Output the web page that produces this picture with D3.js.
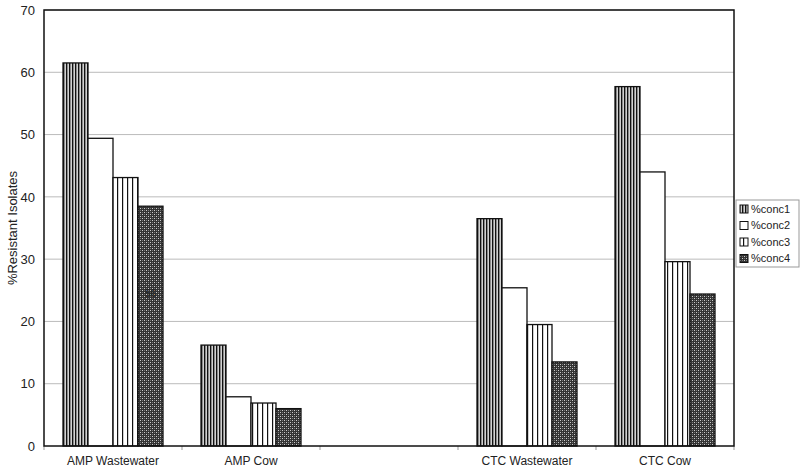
<!DOCTYPE html>
<html>
<head>
<meta charset="utf-8">
<script src="https://d3js.org/d3.v7.min.js"></script>
<style>
  body { margin: 0; background: #fff; }
  text { font-family: "Liberation Sans", Arial, sans-serif; fill: #222; }
</style>
</head>
<body>
<script>
const categories = ["AMP Wastewater", "AMP Cow", "", "CTC Wastewater", "CTC Cow"]
const seriesNames = ["%conc1", "%conc2", "%conc3", "%conc4"]
const conc1 = [61.5, 16.2, null, 36.5, 57.7]
const conc2 = [49.4, 7.9, null, 25.4, 44.0]
const conc3 = [43.1, 6.9, null, 19.5, 29.6]
const conc4 = [38.5, 6.0, null, 13.5, 24.4]
const yTicks = [0, 10, 20, 30, 40, 50, 60, 70]

const m = { width: 800, height: 470, left: 44, right: 734, top: 10, bottom: 446 }

const svg = d3.select("body").append("svg")
    .attr("width", m.width)
    .attr("height", m.height)

// patterns for each series
const defs = svg.append("defs")
const p1 = defs.append("pattern").attr("id", "pat0")
    .attr("patternUnits", "userSpaceOnUse").attr("width", 3).attr("height", 4)
p1.append("rect").attr("width", 3).attr("height", 4).attr("fill", "#aaa")
p1.append("rect").attr("x", 0).attr("width", 1.2).attr("height", 4).attr("fill", "#111")
p1.append("rect").attr("x", 2).attr("width", 0.6).attr("height", 4).attr("fill", "#eee")

defs.append("pattern").attr("id", "pat1")
    .attr("patternUnits", "userSpaceOnUse").attr("width", 4).attr("height", 4)
  .append("rect").attr("width", 4).attr("height", 4).attr("fill", "#fff")

const p3 = defs.append("pattern").attr("id", "pat2")
    .attr("patternUnits", "userSpaceOnUse").attr("width", 5).attr("height", 4)
p3.append("rect").attr("width", 5).attr("height", 4).attr("fill", "#fff")
p3.append("rect").attr("x", 2).attr("width", 1.2).attr("height", 4).attr("fill", "#111")

const p4 = defs.append("pattern").attr("id", "pat3")
    .attr("patternUnits", "userSpaceOnUse").attr("width", 4).attr("height", 4)
p4.append("rect").attr("width", 4).attr("height", 4).attr("fill", "#333")
p4.append("rect").attr("x", 0).attr("y", 0).attr("width", 1).attr("height", 1).attr("fill", "#ccc")
p4.append("rect").attr("x", 2).attr("y", 2).attr("width", 1).attr("height", 1).attr("fill", "#ccc")
p4.append("rect").attr("x", 2).attr("y", 0).attr("width", 1).attr("height", 1).attr("fill", "#777")
p4.append("rect").attr("x", 0).attr("y", 2).attr("width", 1).attr("height", 1).attr("fill", "#777")

const x = d3.scaleBand()
    .domain(d3.range(categories.length))
    .range([m.left, m.right])
    .paddingInner(0).paddingOuter(0)

const xs = d3.scaleBand()
    .domain(d3.range(seriesNames.length))
    .range([0, x.bandwidth()])
    .paddingOuter(0.76).paddingInner(0)

const y = d3.scaleLinear().domain([0, 70]).range([m.bottom, m.top])

// gridlines
svg.append("g").selectAll("line")
  .data(yTicks.slice(1))
  .enter().append("line")
    .attr("x1", m.left).attr("x2", m.right)
    .attr("y1", d => y(d)).attr("y2", d => y(d))
    .attr("stroke", "#bbb").attr("stroke-width", 1)

// y axis
const yAxis = svg.append("g")
    .attr("transform", `translate(${m.left},0)`)
    .call(d3.axisLeft(y).tickValues(yTicks).tickSize(0).tickPadding(9))
yAxis.select(".domain").remove()
yAxis.selectAll("text").style("font-size", "13px").attr("fill", "#222")

// x axis
const xAxis = svg.append("g")
    .attr("transform", `translate(0,${m.bottom})`)
    .call(d3.axisBottom(x).tickFormat(i => categories[i]).tickSize(0).tickPadding(10))
xAxis.select(".domain").remove()
xAxis.selectAll("text").style("font-size", "12px").attr("fill", "#222")
svg.append("g").selectAll("line")
  .data(d3.range(categories.length + 1))
  .enter().append("line")
    .attr("x1", i => m.left + i * x.bandwidth()).attr("x2", i => m.left + i * x.bandwidth())
    .attr("y1", m.bottom).attr("y2", m.bottom + 4)
    .attr("stroke", "#999")

// bars
const series = [conc1, conc2, conc3, conc4]
series.forEach(function(vals, s) {
  svg.append("g").selectAll("rect")
    .data(vals.map((v, i) => ({ v: v, i: i })).filter(d => d.v != null))
    .enter().append("rect")
      .attr("x", d => x(d.i) + xs(s))
      .attr("y", d => y(d.v))
      .attr("width", xs.bandwidth())
      .attr("height", d => y(0) - y(d.v))
      .attr("fill", `url(#pat${s})`)
      .attr("stroke", "#111")
      .attr("stroke-width", 1.3)
})

// small label inside a bar
svg.append("text")
    .attr("x", x(0) + xs(3) + xs.bandwidth() / 2)
    .attr("y", y(24))
    .attr("text-anchor", "middle")
    .style("font-size", "10px")
    .attr("fill", "#111")
    .text("56")

// plot frame
svg.append("rect")
    .attr("x", m.left).attr("y", m.top)
    .attr("width", m.right - m.left).attr("height", m.bottom - m.top)
    .attr("fill", "none").attr("stroke", "#111").attr("stroke-width", 1.5)

// y title
svg.append("text")
    .attr("transform", `translate(12,${(m.top + m.bottom) / 2}) rotate(-90)`)
    .attr("text-anchor", "middle")
    .attr("dy", "0.35em")
    .style("font-size", "13px")
    .text("%Resistant Isolates")

// legend
const lg = svg.append("g").attr("transform", "translate(736,200)")
lg.append("rect")
    .attr("width", 63).attr("height", 67)
    .attr("fill", "#fff").attr("stroke", "#999")
seriesNames.forEach(function(name, s) {
  lg.append("rect")
      .attr("x", 4).attr("y", 5 + s * 16.5)
      .attr("width", 8).attr("height", 8)
      .attr("fill", `url(#pat${s})`).attr("stroke", "#111")
  lg.append("text")
      .attr("x", 15).attr("y", 9 + s * 16.5)
      .attr("dy", "0.35em")
      .style("font-size", "11px")
      .text(name)
})
</script>
</body>
</html>
